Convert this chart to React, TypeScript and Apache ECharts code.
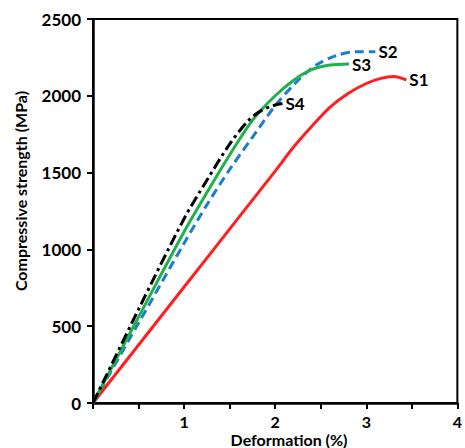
import React, { useEffect, useRef } from "react";
import * as echarts from "echarts";

const xTicks = [0, 0.5, 1, 1.5, 2, 2.5, 3, 3.5, 4];
const yTicks = [0, 500, 1000, 1500, 2000, 2500];

const s1X = [0, 1.0, 1.59, 2.0, 2.2, 2.4, 2.6, 2.8, 3.0, 3.15, 3.3, 3.44];
const s1Y = [0, 755, 1200, 1510, 1665, 1800, 1925, 2015, 2080, 2112, 2125, 2103];

const s2X = [0, 0.5, 1.0, 1.25, 1.5, 1.75, 2.0, 2.25, 2.45, 2.67, 2.89, 3.1];
const s2Y = [0, 520, 1040, 1290, 1520, 1730, 1935, 2100, 2200, 2262, 2287, 2287];

const s3X = [0, 0.5, 1.0, 1.25, 1.5, 1.75, 2.0, 2.2, 2.4, 2.6, 2.81];
const s3Y = [0, 560, 1115, 1370, 1615, 1840, 2000, 2100, 2170, 2200, 2207];

const s4X = [0, 0.5, 1.0, 1.25, 1.5, 1.7, 1.85, 2.0, 2.08];
const s4Y = [0, 610, 1200, 1450, 1685, 1835, 1905, 1940, 1950];

const seriesNames = ["S1", "S2", "S3", "S4"];

const FONT = "Lato";

function pairs(xs: number[], ys: number[]) {
  return xs.map((x, i) => [x, ys[i]]);
}

export default function App() {
  const ref = useRef<HTMLDivElement>(null);
  useEffect(() => {
    if (!ref.current) return;
    const chart = echarts.init(ref.current, undefined, { renderer: "svg" });
    const endLabel = (name: string) => ({
      show: true,
      formatter: name,
      distance: 3,
      color: "#000",
      fontFamily: FONT,
      fontWeight: "bold",
      fontSize: 17,
    });
    const mk = (
      name: string,
      xs: number[],
      ys: number[],
      color: string,
      type: any
    ) => ({
      type: "line",
      name,
      data: pairs(xs, ys),
      smooth: 0.3,
      showSymbol: false,
      symbol: "none",
      lineStyle: { color, width: 3, type },
      endLabel: endLabel(name),
      z: 3,
    });
    chart.setOption({
      animation: false,
      backgroundColor: "#fff",
      grid: {
        left: 93,
        right: 3,
        top: 19,
        bottom: 45,
        show: true,
        borderColor: "#000",
        borderWidth: 2,
        backgroundColor: "transparent",
      },
      xAxis: {
        type: "value",
        min: xTicks[0],
        max: xTicks[xTicks.length - 1],
        interval: 0.5,
        axisLine: { show: true, onZero: false, lineStyle: { color: "#000", width: 2.5 } },
        axisTick: { show: true, length: 6, lineStyle: { color: "#000", width: 2 } },
        splitLine: { show: false },
        axisLabel: {
          color: "#000",
          fontFamily: FONT,
          fontWeight: "bold",
          fontSize: 16,
          margin: 10,
          showMinLabel: true,
          showMaxLabel: true,
          formatter: (v: number) => (Number.isInteger(v) && v > 0 ? String(v) : ""),
        },
      },
      yAxis: {
        type: "value",
        min: yTicks[0],
        max: yTicks[yTicks.length - 1],
        interval: 500,
        axisLine: { show: true, onZero: false, lineStyle: { color: "#000", width: 2.5 } },
        axisTick: { show: true, length: 6, lineStyle: { color: "#000", width: 2 } },
        splitLine: { show: false },
        axisLabel: {
          color: "#000",
          fontFamily: FONT,
          fontWeight: "bold",
          fontSize: 17,
          margin: 12,
          formatter: (v: number) => String(v),
        },
      },
      graphic: [
        {
          type: "text",
          x: 20,
          y: 191,
          rotation: Math.PI / 2,
          style: {
            text: "Compressive strength (MPa)",
            fill: "#000",
            font: `bold 16px ${FONT}`,
            textAlign: "center",
            textVerticalAlign: "middle",
          },
        },
        {
          type: "text",
          x: 289,
          y: 439.5,
          style: {
            text: "Deformation (%)",
            fill: "#000",
            font: `bold 16px ${FONT}`,
            textAlign: "center",
            textVerticalAlign: "middle",
          },
        },
      ],
      series: [
        mk(seriesNames[0], s1X, s1Y, "#ff1f1f", "solid"),
        mk(seriesNames[1], s2X, s2Y, "#1c7dcc", [9, 5]),
        mk(seriesNames[2], s3X, s3Y, "#1db24b", "solid"),
        mk(seriesNames[3], s4X, s4Y, "#000000", [11, 4, 3, 4]),
      ],
    });
    return () => chart.dispose();
  }, []);
  return (
    <div
      ref={ref}
      style={{ position: "fixed", left: 0, top: 0, width: 465, height: 448, background: "#fff" }}
    />
  );
}
